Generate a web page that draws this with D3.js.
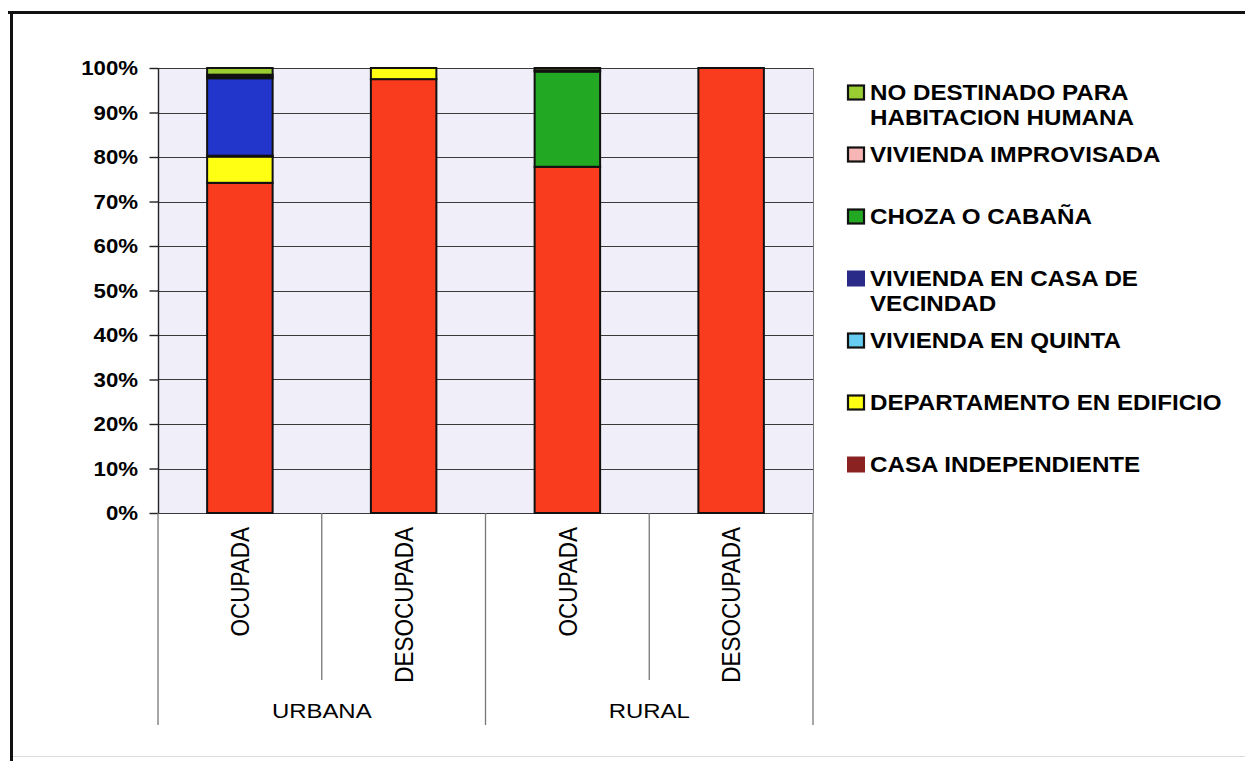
<!DOCTYPE html>
<html>
<head>
<meta charset="utf-8">
<script src="https://cdn.jsdelivr.net/npm/d3@7"></script>
<style>
html,body{margin:0;padding:0;background:#fff;}
svg{display:block;}
text{font-family:"Liberation Sans", Arial, Helvetica, sans-serif;fill:#000;}
</style>
</head>
<body>
<svg id="chart" width="1245" height="761"></svg>
<script>
// ---- data ----
const categories = ["OCUPADA", "DESOCUPADA", "OCUPADA", "DESOCUPADA"];
const groups = ["URBANA", "RURAL"];
const yTicks = [0, 10, 20, 30, 40, 50, 60, 70, 80, 90, 100];

// series in stacking order (bottom -> top)
const seriesNames = [
  "CASA INDEPENDIENTE",
  "DEPARTAMENTO EN EDIFICIO",
  "VIVIENDA EN QUINTA",
  "VIVIENDA EN CASA DE VECINDAD",
  "CHOZA O CABAÑA",
  "VIVIENDA IMPROVISADA",
  "NO DESTINADO PARA HABITACION HUMANA"
];
const casaIndependiente   = [74.2, 97.5, 77.8, 100];
const departamento        = [5.9, 2.5, 0, 0];
const viviendaQuinta      = [0.2, 0, 0, 0];
const casaVecindad        = [17.4, 0, 0, 0];
const chozaCabana         = [0.4, 0, 21.4, 0];
const viviendaImprovisada = [0.4, 0, 0.3, 0];
const noDestinado         = [1.5, 0, 0.5, 0];

// legend labels (top -> bottom), with line breaks as in the original
const legendLines = [
  ["NO DESTINADO PARA", "HABITACION HUMANA"],
  ["VIVIENDA IMPROVISADA"],
  ["CHOZA O CABAÑA"],
  ["VIVIENDA EN CASA DE", "VECINDAD"],
  ["VIVIENDA EN QUINTA"],
  ["DEPARTAMENTO EN EDIFICIO"],
  ["CASA INDEPENDIENTE"]
];

// ---- styles ----
const barColors    = ["#F93B1E", "#FFFF14", "#66CCF0", "#2236CC", "#23A823", "#F7B5B5", "#9ACD32"];
const legendColors = ["#8B2222", "#FFFF14", "#66CCF0", "#2A2A88", "#23A823", "#F7B5B5", "#9ACD32"];
const legendBorder = [false, true, true, false, true, true, true];
const SX = 1.14; // horizontal stretch of the scanned original

const seriesValues = [casaIndependiente, departamento, viviendaQuinta, casaVecindad,
                      chozaCabana, viviendaImprovisada, noDestinado];

const svg = d3.select("#chart");

// outer frame
svg.append("line").attr("x1", 8).attr("x2", 1245).attr("y1", 12.5).attr("y2", 12.5)
  .attr("stroke", "#111").attr("stroke-width", 3);
svg.append("line").attr("x1", 11.5).attr("x2", 11.5).attr("y1", 11).attr("y2", 761)
  .attr("stroke", "#111").attr("stroke-width", 3);
svg.append("line").attr("x1", 13).attr("x2", 1245).attr("y1", 756.5).attr("y2", 756.5)
  .attr("stroke", "#ddd").attr("stroke-width", 1);

const plot = {left: 158, right: 813, top: 68, bottom: 513};

const x = d3.scaleBand()
  .domain(d3.range(categories.length))
  .range([plot.left, plot.right])
  .padding(0);
const y = d3.scaleLinear().domain([0, 100]).range([plot.bottom, plot.top]);

// plot background
svg.append("rect")
  .attr("x", plot.left).attr("y", plot.top)
  .attr("width", plot.right - plot.left).attr("height", plot.bottom - plot.top)
  .attr("fill", "#F0EEF8");

// gridlines
svg.append("g").selectAll("line").data(yTicks).join("line")
  .attr("x1", plot.left).attr("x2", plot.right)
  .attr("y1", d => Math.round(y(d)) + 0.5).attr("y2", d => Math.round(y(d)) + 0.5)
  .attr("stroke", "#3a3a3a").attr("stroke-width", 1.2);

// right border of plot
svg.append("line").attr("x1", plot.right + 0.5).attr("x2", plot.right + 0.5)
  .attr("y1", plot.top).attr("y2", plot.bottom).attr("stroke", "#777").attr("stroke-width", 1);

// y axis with ticks
const yAxis = d3.axisLeft(y).tickValues(yTicks).tickSize(9).tickFormat("");
const yg = svg.append("g").attr("transform", `translate(${plot.left + 0.5},0)`).call(yAxis);
yg.selectAll("path,line").attr("stroke", "#222").attr("stroke-width", 1.4);
yg.select(".domain").attr("d", `M0,${plot.top}V${plot.bottom}`);

// y tick labels
svg.append("g").selectAll("text").data(yTicks).join("text")
  .attr("transform", d => `translate(138,${y(d)}) scale(${SX},1)`)
  .attr("text-anchor", "end")
  .attr("dy", "0.36em")
  .attr("font-size", 19.5)
  .attr("font-weight", "bold")
  .text(d => d + "%");

// stacked bars
const table = categories.map((c, i) => {
  const row = {idx: i};
  seriesNames.forEach((s, k) => row[s] = seriesValues[k][i]);
  return row;
});
const stack = d3.stack().keys(seriesNames)(table);
const barW = x.bandwidth() * 0.4;

const layers = svg.append("g").selectAll("g").data(stack).join("g")
  .attr("fill", (d, k) => barColors[k]);
layers.selectAll("rect")
  .data(d => d.filter(p => p[1] - p[0] > 0))
  .join("rect")
  .attr("x", p => x(p.data.idx) + (x.bandwidth() - barW) / 2)
  .attr("width", barW)
  .attr("y", p => y(p[1]))
  .attr("height", p => y(p[0]) - y(p[1]))
  .attr("stroke", "#111")
  .attr("stroke-width", 2);

// category separators below the axis
const bounds = d3.range(categories.length + 1);
svg.append("g").selectAll("line").data(bounds).join("line")
  .attr("x1", i => i < categories.length ? x(i) : plot.right)
  .attr("x2", i => i < categories.length ? x(i) : plot.right)
  .attr("y1", plot.bottom)
  .attr("y2", i => (i % 2 === 0) ? 725 : 680)
  .attr("stroke", "#777").attr("stroke-width", 1.3);

// rotated category labels
svg.append("g").selectAll("text").data(categories).join("text")
  .attr("transform", (d, i) => `translate(${x(i) + x.bandwidth() / 2},527) scale(${SX},1) rotate(-90)`)
  .attr("text-anchor", "end")
  .attr("dy", "0.36em")
  .attr("font-size", 22.5)
  .text(d => d);

// group labels
svg.append("g").selectAll("text").data(groups).join("text")
  .attr("transform", (d, g) => `translate(${(x(g * 2) + (g * 2 + 2 < categories.length ? x(g * 2 + 2) : plot.right)) / 2},718) scale(${SX},1)`)
  .attr("text-anchor", "middle")
  .attr("font-size", 21)
  .text(d => d);

// legend (top -> bottom is reverse of stacking order)
const legendOrder = d3.range(seriesNames.length).reverse();
const lg = svg.append("g").selectAll("g").data(legendOrder).join("g")
  .attr("transform", (k, j) => `translate(847,${99.5 + j * 62})`);
lg.append("rect")
  .attr("x", (k) => legendBorder[k] ? 1 : 0)
  .attr("y", (k) => legendBorder[k] ? -14 : -15)
  .attr("width", k => legendBorder[k] ? 16 : 18)
  .attr("height", k => legendBorder[k] ? 14 : 16)
  .attr("fill", k => legendColors[k])
  .attr("stroke", k => legendBorder[k] ? "#111" : "none")
  .attr("stroke-width", 2.2);
lg.each(function(k, j) {
  const g = d3.select(this);
  legendLines[j].forEach((line, li) => {
    g.append("text")
      .attr("transform", `translate(23,${li * 25.5}) scale(${SX},1)`)
      .attr("font-size", 21.2)
      .attr("font-weight", "bold")
      .text(line);
  });
});
</script>
</body>
</html>
